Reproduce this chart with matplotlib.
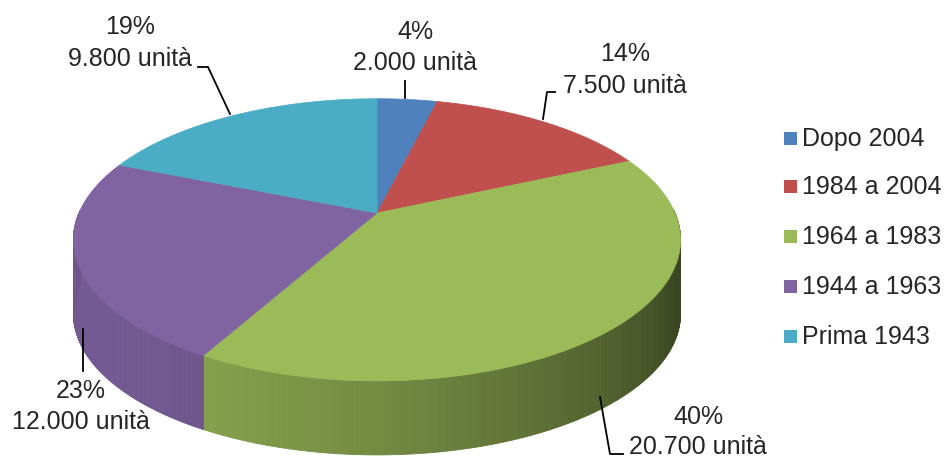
"""Housing stock by construction period, drawn as a tilted 3D pie."""

import numpy as np
import matplotlib

matplotlib.use("Agg")
import matplotlib.pyplot as plt
from matplotlib.patches import Polygon, Rectangle
from matplotlib.colors import to_rgb

periods = ["Dopo 2004", "1984 a 2004", "1964 a 1983", "1944 a 1963", "Prima 1943"]
units = [2000, 7500, 20700, 12000, 9800]
unit_labels = ["2.000 unità", "7.500 unità", "20.700 unità", "12.000 unità", "9.800 unità"]
pct_labels = ["4%", "14%", "40%", "23%", "19%"]
colors = ["#4F81BD", "#C0504D", "#9BBB59", "#8064A2", "#4BACC6"]

plt.rcParams["font.family"] = ["Liberation Sans", "DejaVu Sans"]
TEXT = "#262626"

W, H = 953, 460
fig = plt.figure(figsize=(W / 100, H / 100), dpi=100)
ax = fig.add_axes([0, 0, 1, 1])
ax.set_xlim(0, W)
ax.set_ylim(H, 0)
ax.axis("off")

# pie geometry in pixel space, back of the disc shrunk for perspective
cx, cy = 377, 214
A, B = 298, 136
persp = 0.19
depth = 74


def project(t, dz=0.0):
    u, v = np.cos(t), np.sin(t)
    s = 1.0 / (1.0 + persp * v)
    return cx + A * u * s, cy - B * v * s + dz


def shade(t):
    return max(0.38, 0.58 + 0.32 * np.cos(t + np.radians(150)))


fracs = np.array(units, dtype=float) / sum(units)
bounds = np.radians(90 - 360 * np.concatenate([[0], np.cumsum(fracs)]))

# side walls first (front half only), top faces over them
for i, col in enumerate(colors):
    ts = np.linspace(bounds[i], bounds[i + 1], 240)
    base = np.array(to_rgb(col))
    for a, b in zip(ts[:-1], ts[1:]):
        m = 0.5 * (a + b)
        if np.sin(m) > 0.02:
            continue
        quad = [project(a), project(b), project(b, depth), project(a, depth)]
        c = np.clip(base * shade(m), 0, 1)
        ax.add_patch(Polygon(quad, closed=True, facecolor=c, edgecolor=c,
                             linewidth=0.6))

for i, col in enumerate(colors):
    ts = np.linspace(bounds[i], bounds[i + 1], 240)
    xs, ys = project(ts)
    pts = [(cx, cy)] + list(zip(xs, ys))
    ax.add_patch(Polygon(pts, closed=True, facecolor=col, edgecolor=col,
                         linewidth=0.5))

# data labels: percentage line above the unit count
fs = 18
label_pos = {
    0: (415, 32, 63),
    1: (625, 54, 86),
    2: (698, 417, 447),
    3: (81, 391, 422),
    4: (130, 27, 59),
}
for i, (x, y1, y2) in label_pos.items():
    ax.text(x, y1, pct_labels[i], ha="center", va="center", fontsize=fs, color=TEXT)
    ax.text(x, y2, unit_labels[i], ha="center", va="center", fontsize=fs, color=TEXT)

leaders = [
    [(405, 82), (405, 99)],
    [(555, 93), (547, 93), (543, 120)],
    [(600, 398), (610, 455), (623, 455)],
    [(83, 330), (83, 372)],
    [(198, 68), (208, 68), (230, 115)],
]
for line in leaders:
    xs, ys = zip(*line)
    ax.plot(xs, ys, color="black", linewidth=1.3)

# legend
leg_y = [139, 187, 237, 287, 337]
for name, col, y in zip(periods, colors, leg_y):
    ax.add_patch(Rectangle((784, y - 6), 13, 13, facecolor=col, edgecolor="none"))
    ax.text(802, y, name, ha="left", va="center", fontsize=fs, color=TEXT)

fig.savefig("out.png", dpi=100)
